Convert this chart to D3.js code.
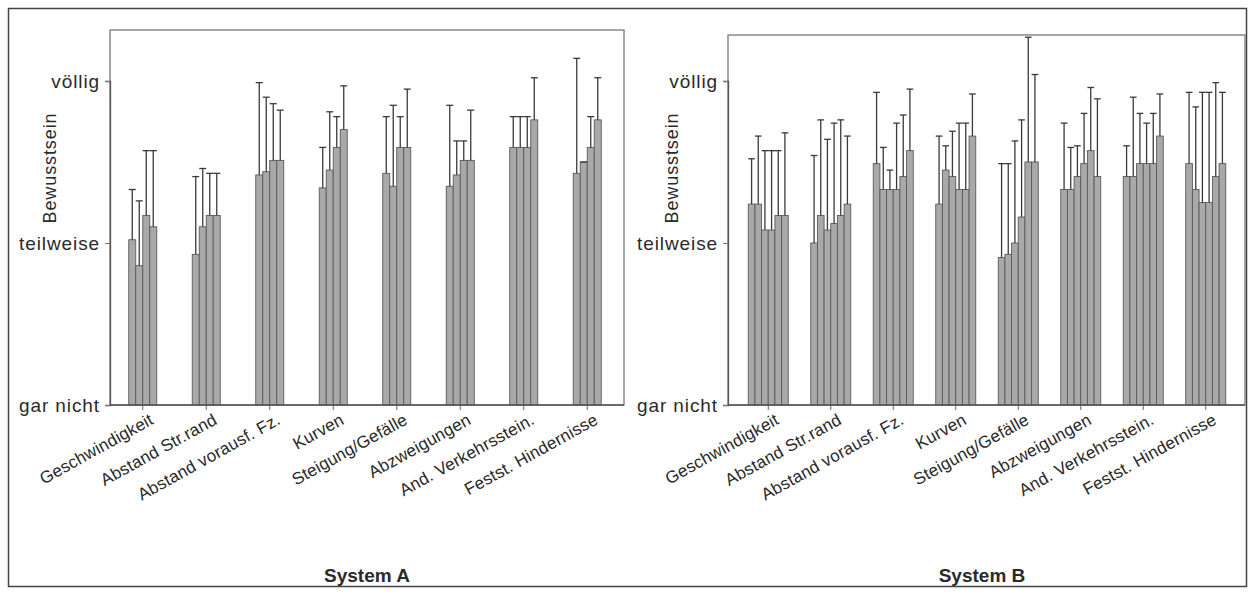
<!DOCTYPE html>
<html>
<head>
<meta charset="utf-8">
<script src="https://cdn.jsdelivr.net/npm/d3@7"></script>
<style>
  body { margin: 0; background: #fff; }
  text { font-family: "Liberation Sans", Arial, sans-serif; fill: #2a2a2a; }
</style>
</head>
<body>
<script>
'use strict';

const BAR_FILL  = '#a9a9a9'
const BAR_EDGE  = '#5a5a5a'
const LINE      = '#3a3a3a'
const BORDER    = '#444'

const categories = ['Geschwindigkeit', 'Abstand Str.rand', 'Abstand vorausf. Fz.', 'Kurven',
  'Steigung/Gefälle', 'Abzweigungen', 'And. Verkehrsstein.', 'Festst. Hindernisse']
const levelLabels = ['gar nicht', 'teilweise', 'völlig']
const levelValues = [0, 1, 2]

// System A: 4 bars per category (mean, upper end of error bar)
const meanA = [
  [1.02, 0.86, 1.17, 1.10],
  [0.93, 1.10, 1.17, 1.17],
  [1.42, 1.44, 1.51, 1.51],
  [1.34, 1.45, 1.59, 1.70],
  [1.43, 1.35, 1.59, 1.59],
  [1.35, 1.42, 1.51, 1.51],
  [1.59, 1.59, 1.59, 1.76],
  [1.43, 1.50, 1.59, 1.76]
]
const errA = [
  [1.33, 1.26, 1.57, 1.57],
  [1.41, 1.46, 1.43, 1.43],
  [1.99, 1.90, 1.86, 1.82],
  [1.59, 1.81, 1.78, 1.97],
  [1.78, 1.85, 1.78, 1.95],
  [1.85, 1.63, 1.63, 1.82],
  [1.78, 1.78, 1.78, 2.02],
  [2.14, 1.50, 1.78, 2.02]
]

// System B: 6 bars per category
const meanB = [
  [1.24, 1.24, 1.08, 1.08, 1.17, 1.17],
  [1.00, 1.17, 1.08, 1.12, 1.17, 1.24],
  [1.49, 1.33, 1.33, 1.33, 1.41, 1.57],
  [1.24, 1.45, 1.41, 1.33, 1.33, 1.66],
  [0.91, 0.93, 1.00, 1.16, 1.50, 1.50],
  [1.33, 1.33, 1.41, 1.49, 1.57, 1.41],
  [1.41, 1.41, 1.49, 1.49, 1.49, 1.66],
  [1.49, 1.33, 1.25, 1.25, 1.41, 1.49]
]
const errB = [
  [1.52, 1.66, 1.57, 1.57, 1.57, 1.68],
  [1.54, 1.76, 1.64, 1.74, 1.76, 1.66],
  [1.93, 1.59, 1.45, 1.74, 1.79, 1.95],
  [1.66, 1.60, 1.69, 1.74, 1.74, 1.92],
  [1.49, 1.49, 1.63, 1.76, 2.27, 2.04],
  [1.74, 1.59, 1.60, 1.80, 1.96, 1.89],
  [1.60, 1.90, 1.80, 1.74, 1.80, 1.92],
  [1.93, 1.84, 1.93, 1.93, 1.99, 1.93]
]

const W = 1255, H = 595

const svg = d3.select('body')
  .append('svg')
  .attr('width', W)
  .attr('height', H)

svg.append('rect')
  .attr('x', 8.5).attr('y', 8.5)
  .attr('width', W - 17).attr('height', H - 17)
  .attr('fill', 'none')
  .attr('stroke', BORDER)
  .attr('stroke-width', 1.5)

function drawPanel(opt) {
  const { means, errs, boxLeft, boxRight, boxTop, bandRange, groupWidth, title, titleX, axisTitleX } = opt
  const baseY = 405

  const y = d3.scaleLinear().domain([0, 2]).range([baseY, 81])
  const x = d3.scaleBand().domain(categories).range(bandRange).padding(0)
  const nBars = means[0].length
  const inner = d3.scaleBand().domain(d3.range(nBars))
    .range([-groupWidth / 2, groupWidth / 2]).padding(0)

  const g = svg.append('g')

  // plot frame
  g.append('rect')
    .attr('x', boxLeft).attr('y', boxTop)
    .attr('width', boxRight - boxLeft).attr('height', baseY - boxTop)
    .attr('fill', 'none')
    .attr('stroke', '#777')
    .attr('stroke-width', 1.3)

  const groups = g.selectAll('g.grp')
    .data(categories)
    .join('g')
    .attr('class', 'grp')
    .attr('transform', d => `translate(${ x(d) + x.bandwidth() / 2 },0)`)

  groups.selectAll('rect')
    .data((d, i) => means[i].map((v, j) => ({ v, j })))
    .join('rect')
    .attr('x', d => inner(d.j))
    .attr('y', d => y(d.v))
    .attr('width', inner.bandwidth())
    .attr('height', d => baseY - y(d.v))
    .attr('fill', BAR_FILL)
    .attr('stroke', BAR_EDGE)
    .attr('stroke-width', 0.9)

  const eb = groups.selectAll('g.err')
    .data((d, i) => errs[i].map((e, j) => ({ e, v: means[i][j], j })))
    .join('g')
    .attr('class', 'err')
    .attr('transform', d => `translate(${ inner(d.j) + inner.bandwidth() / 2 },0)`)

  eb.append('line')
    .attr('y1', d => y(d.v)).attr('y2', d => y(d.e))
    .attr('stroke', LINE).attr('stroke-width', 1.3)
  eb.append('line')
    .attr('x1', -inner.bandwidth() / 2).attr('x2', inner.bandwidth() / 2)
    .attr('y1', d => y(d.e)).attr('y2', d => y(d.e))
    .attr('stroke', LINE).attr('stroke-width', 1.3)

  // y axis
  const yAxis = g.append('g')
    .attr('transform', `translate(${ boxLeft },0)`)
    .call(d3.axisLeft(y).tickValues(levelValues)
      .tickFormat((d, i) => levelLabels[i]).tickSize(5).tickPadding(5))
  yAxis.select('.domain').attr('stroke', '#555').attr('stroke-width', 1.3)
  yAxis.selectAll('.tick line').attr('stroke', '#777')
  yAxis.selectAll('.tick text')
    .style('font-size', '19px')
    .style('letter-spacing', '0.9px')
    .attr('fill', '#2a2a2a')

  // x axis
  const xAxis = g.append('g')
    .attr('transform', `translate(0,${ baseY })`)
    .call(d3.axisBottom(x).tickSize(5).tickFormat(''))
  xAxis.select('.domain').remove()
  g.append('line')
    .attr('x1', boxLeft).attr('x2', boxRight)
    .attr('y1', baseY).attr('y2', baseY)
    .attr('stroke', '#555').attr('stroke-width', 1.5)
  xAxis.selectAll('.tick line').attr('stroke', '#666')

  g.selectAll('text.xlab')
    .data(categories)
    .join('text')
    .attr('class', 'xlab')
    .attr('transform', d => `translate(${ x(d) + x.bandwidth() / 2 + 9 },${ baseY + 13 }) rotate(-29)`)
    .attr('text-anchor', 'end')
    .attr('dy', '0.35em')
    .style('font-size', '17px')
    .style('letter-spacing', '0.2px')
    .text(d => d)

  g.append('text')
    .attr('transform', `translate(${ axisTitleX },168) rotate(-90)`)
    .attr('text-anchor', 'middle')
    .style('font-size', '18px')
    .style('letter-spacing', '0.9px')
    .text('Bewusstsein')

  g.append('text')
    .attr('x', titleX).attr('y', 582)
    .attr('text-anchor', 'middle')
    .style('font-size', '19px')
    .style('font-weight', 'bold')
    .text(title)
}

drawPanel({
  means: meanA, errs: errA,
  boxLeft: 110, boxRight: 624, boxTop: 30,
  bandRange: [111, 619], groupWidth: 28,
  title: 'System A', titleX: 367, axisTitleX: 56
})

drawPanel({
  means: meanB, errs: errB,
  boxLeft: 728, boxRight: 1245, boxTop: 35,
  bandRange: [737, 1237], groupWidth: 40,
  title: 'System B', titleX: 982, axisTitleX: 678
})
</script>
</body>
</html>
